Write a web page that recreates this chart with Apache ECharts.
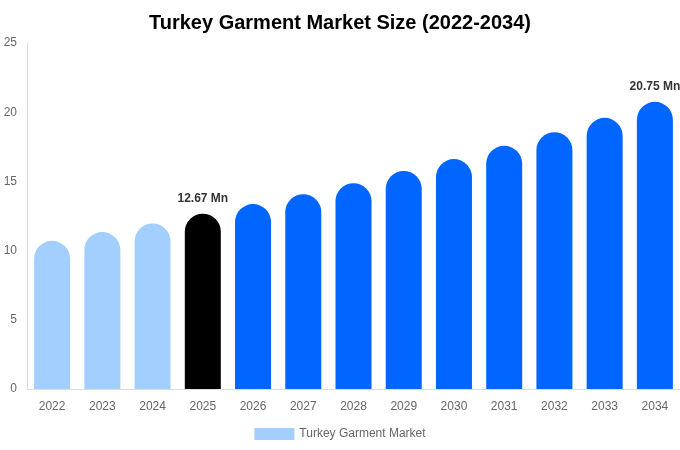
<!DOCTYPE html>
<html>
<head>
<meta charset="utf-8">
<script src="https://cdn.jsdelivr.net/npm/echarts@6/dist/echarts.min.js"></script>
<style>
  html, body { margin: 0; padding: 0; background: #fff; }
  #chart { width: 680px; height: 450px; }
</style>
</head>
<body>
<div id="chart"></div>
<script>
// 数据
var years = ['2022', '2023', '2024', '2025', '2026', '2027', '2028', '2029', '2030', '2031', '2032', '2033', '2034'];
var marketSize = [10.71, 11.34, 11.96, 12.67, 13.36, 14.08, 14.87, 15.76, 16.61, 17.57, 18.56, 19.59, 20.75];
var labelledYears = ['2025', '2034'];

var colorPast = '#a3cfff';
var colorBase = '#000000';
var colorForecast = '#0066ff';

function barColor(year) {
  if (year < '2025') return colorPast;
  if (year === '2025') return colorBase;
  return colorForecast;
}

var barData = years.map(function (y, i) {
  var item = {
    value: marketSize[i],
    itemStyle: { color: barColor(y) }
  };
  if (labelledYears.indexOf(y) > -1) {
    item.label = {
      show: true,
      position: 'top',
      distance: 9,
      formatter: function (p) { return p.value.toFixed(2) + ' Mn'; },
      color: '#333',
      fontWeight: 'bold',
      fontSize: 12
    };
  }
  return item;
});

var chart = echarts.init(document.getElementById('chart'));
var option = {
  backgroundColor: '#ffffff',
  animation: false,
  title: {
    text: 'Turkey Garment Market Size (2022-2034)',
    left: 'center',
    top: 8,
    textStyle: {
      fontFamily: 'Liberation Sans, Arial, sans-serif',
      fontSize: 20,
      fontWeight: 'bold',
      color: '#000'
    }
  },
  legend: {
    bottom: 5,
    left: 'center',
    icon: 'rect',
    itemWidth: 40,
    itemHeight: 12,
    itemGap: 6,
    data: [{ name: 'Turkey Garment Market', itemStyle: { color: colorPast } }],
    textStyle: { color: '#666', fontSize: 12, fontFamily: 'Liberation Sans, Arial, sans-serif' }
  },
  grid: {
    left: 27,
    right: 0,
    top: 43,
    bottom: 61
  },
  xAxis: {
    type: 'category',
    data: years,
    axisLine: { lineStyle: { color: '#ddd' } },
    axisTick: { show: false },
    axisLabel: { color: '#666', fontSize: 12, margin: 12, fontFamily: 'Liberation Sans, Arial, sans-serif' }
  },
  yAxis: {
    type: 'value',
    min: 0,
    max: 25,
    interval: 5,
    axisLine: { show: true, lineStyle: { color: '#ddd' } },
    axisTick: { show: false },
    splitLine: { show: false },
    axisLabel: { color: '#666', fontSize: 12, margin: 10, fontFamily: 'Liberation Sans, Arial, sans-serif' }
  },
  series: [{
    name: 'Turkey Garment Market',
    type: 'bar',
    barWidth: 36,
    itemStyle: { borderRadius: [18, 18, 0, 0] },
    data: barData
  }]
};
chart.setOption(option);
</script>
</body>
</html>
